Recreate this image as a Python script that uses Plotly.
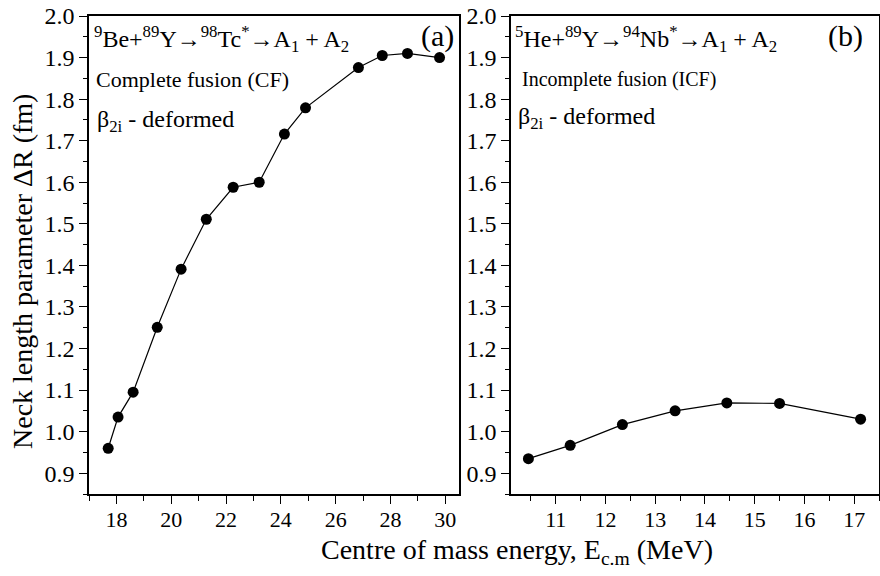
import plotly.graph_objects as go

# Panel (a): 9Be + 89Y -> 98Tc* (complete fusion)
ecm_cf = [17.7, 18.06, 18.61, 19.49, 20.36, 21.28, 22.26, 23.21, 24.13, 24.9, 26.83, 27.7, 28.62, 29.79]
dr_cf = [0.960, 1.035, 1.095, 1.251, 1.391, 1.511, 1.588, 1.600, 1.716, 1.779, 1.876, 1.905, 1.910, 1.900]

# Panel (b): 5He + 89Y -> 94Nb* (incomplete fusion)
ecm_icf = [10.45, 11.29, 12.34, 13.40, 14.44, 15.50, 17.13]
dr_icf = [0.935, 0.967, 1.017, 1.050, 1.069, 1.068, 1.030]

W, H = 880, 576
FONT = "'Liberation Serif', 'Times New Roman', Times, serif"

def px_x(p):
    return p / W

def px_y(p):
    return 1 - p / H

fig = go.Figure()
line_style = dict(color="black", width=1.2)
marker_style = dict(color="black", size=11, symbol="circle")
fig.add_trace(go.Scatter(x=ecm_cf, y=dr_cf, mode="lines+markers", line=line_style,
                         marker=marker_style, xaxis="x", yaxis="y", showlegend=False))
fig.add_trace(go.Scatter(x=ecm_icf, y=dr_icf, mode="lines+markers", line=line_style,
                         marker=marker_style, xaxis="x2", yaxis="y2", showlegend=False))

ydom = [px_y(494), px_y(16)]
common_axis = dict(showline=True, linecolor="black", linewidth=1.5, mirror=True,
                   ticks="outside", ticklen=8, tickwidth=1.2, tickcolor="black",
                   showgrid=False, zeroline=False, automargin=False)
xtf = dict(family=FONT, size=22, color="black")
ytf = dict(family=FONT, size=24, color="black")

fig.update_layout(
    width=W, height=H,
    margin=dict(l=0, r=0, t=0, b=0, autoexpand=False),
    paper_bgcolor="white", plot_bgcolor="white",
    font=dict(family=FONT, color="black"),
    xaxis=dict(domain=[px_x(89), px_x(459)], range=[17, 30.5], dtick=2, tick0=0,
               minor=dict(dtick=1, tick0=0, ticks="outside", ticklen=5, tickcolor="black"),
               anchor="y", tickfont=xtf, ticklabelstandoff=-3, **common_axis),
    yaxis=dict(domain=ydom, range=[0.85, 2.0], dtick=0.1, tick0=0, tickformat=".1f",
               minor=dict(dtick=0.05, tick0=0, ticks="outside", ticklen=4, tickcolor="black"),
               anchor="x", tickfont=ytf, **common_axis),
    xaxis2=dict(domain=[px_x(511), px_x(879)], range=[10.1, 17.5], dtick=1, tick0=0,
                minor=dict(dtick=0.5, tick0=0, ticks="outside", ticklen=5, tickcolor="black"),
                anchor="y2", tickfont=xtf, ticklabelstandoff=-3, **common_axis),
    yaxis2=dict(domain=ydom, range=[0.85, 2.0], dtick=0.1, tick0=0, tickformat=".1f",
                minor=dict(dtick=0.05, tick0=0, ticks="outside", ticklen=4, tickcolor="black"),
                anchor="x2", tickfont=ytf, **common_axis),
)

def note(text, x, y, size, xanchor="left", **kw):
    fig.add_annotation(text=text, x=px_x(x), y=px_y(y), xref="paper", yref="paper",
                       xanchor=xanchor, yanchor="middle", showarrow=False,
                       font=dict(family=FONT, size=size, color="black"), **kw)

# Panel (a) labels
note("<sup>9</sup>Be+<sup>89</sup>Y→<sup>98</sup>Tc<sup>*</sup>→A<sub>1</sub> + A<sub>2</sub>", 92, 39, 24)
note("Complete fusion (CF)", 94, 80, 22)
note("β<sub>2i</sub> - deformed", 95, 121, 24)
note("(a)", 456, 36, 30, xanchor="right")

# Panel (b) labels
note("<sup>5</sup>He+<sup>89</sup>Y→<sup>94</sup>Nb<sup>*</sup>→A<sub>1</sub> + A<sub>2</sub>", 513, 39, 24)
note("Incomplete fusion (ICF)", 520, 79, 20)
note("β<sub>2i</sub> - deformed", 516, 118, 24)
note("(b)", 865, 36, 30, xanchor="right")

# Axis titles
note("Centre of mass energy, E<sub>c.m</sub> (MeV)", 517, 551, 28, xanchor="center")
note("Neck length parameter ΔR (fm)", 22, 272, 28, xanchor="center", textangle=-90)

fig.write_html("out.html")
